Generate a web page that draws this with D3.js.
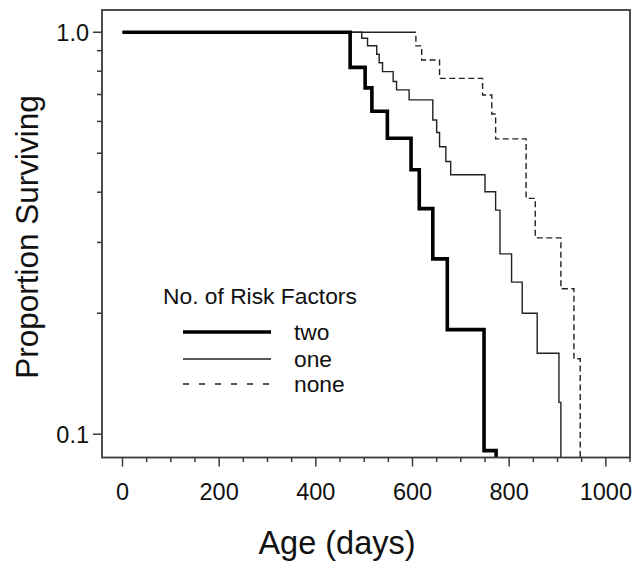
<!DOCTYPE html>
<html>
<head>
<meta charset="utf-8">
<script src="https://cdn.jsdelivr.net/npm/d3@7"></script>
<style>
  html, body { margin: 0; padding: 0; background: #fff; }
  svg { display: block; font-family: "Liberation Sans", Arial, sans-serif; }
</style>
</head>
<body>
<svg id="chart" width="642" height="572"></svg>
<script>
// ---- data ----
const groupNames = ["two", "one", "none"];
const legendTitle = "No. of Risk Factors";

const twoDays = [0, 471, 502, 516, 548, 597, 614, 642, 672, 748, 773];
const twoSurv = [1, 0.818, 0.727, 0.636, 0.545, 0.455, 0.364, 0.273, 0.182, 0.091, 0];

const oneDays = [0, 495, 507, 526, 531, 538, 560, 567, 593, 642, 650, 656, 669, 679, 750, 772, 781, 805, 827, 858, 903, 907];
const oneSurv = [1, 0.966, 0.926, 0.882, 0.840, 0.798, 0.754, 0.719, 0.679, 0.605, 0.563, 0.519, 0.477, 0.442, 0.401, 0.361, 0.281, 0.239, 0.200, 0.159, 0.120, 0];

const noneDays = [0, 607, 619, 656, 745, 764, 772, 835, 854, 907, 934, 947];
const noneSurv = [1, 0.925, 0.853, 0.768, 0.698, 0.626, 0.543, 0.386, 0.308, 0.230, 0.154, 0];

const xMajorTicks = [0, 200, 400, 600, 800, 1000];
const xMinorTicks = [50, 100, 150, 250, 300, 350, 450, 500, 550, 650, 700, 750, 850, 900, 950, 1050];
const yMajorTicks = [1.0, 0.1];
const yMajorLabels = ["1.0", "0.1"];
const yMinorTicks = [0.9, 0.8, 0.7, 0.6, 0.5, 0.4, 0.3, 0.2];

const xTitle = "Age (days)";
const yTitle = "Proportion Surviving";

// ---- layout ----
const svg = d3.select("#chart");
const L = 102, R = 630, T = 10, B = 457.5;
const ink = "#111";
const frameCol = "#3a3a3a";

const x = d3.scaleLinear().domain([-42.4, 1050]).range([L, R]);
const y = d3.scaleLog().domain([0.0875, 1.136]).range([B, T]).clamp(true);

// ---- curves ----
const series = [
  { name: "none", days: noneDays, surv: noneSurv, width: 1.4, dash: [6, 3.5], color: "#222" },
  { name: "one",  days: oneDays,  surv: oneSurv,  width: 1.4, dash: null,    color: "#222" },
  { name: "two",  days: twoDays,  surv: twoSurv,  width: 3.6, dash: null,    color: "#000" }
];

const line = d3.line()
  .x(d => x(d[0]))
  .y(d => y(d[1] > 0 ? d[1] : 1e-6))
  .curve(d3.curveStepAfter);

const plot = svg.append("g");
series.forEach(s => {
  const pts = s.days.map((d, i) => [d, s.surv[i]]);
  const p = plot.append("path")
    .attr("d", line(pts))
    .attr("fill", "none")
    .attr("stroke", s.color)
    .attr("stroke-width", s.width)
    .attr("stroke-linejoin", "miter")
    .attr("stroke-linecap", "butt");
  if (s.dash) {
    // the first (flat, 1.0) stretch is drawn solid, then the dash pattern starts
    const total = p.node().getTotalLength();
    const first = x(s.days[1]) - x(s.days[0]);
    const arr = [first, s.dash[1]];
    let len = first + s.dash[1];
    while (len < total + 20) { arr.push(s.dash[0], s.dash[1]); len += s.dash[0] + s.dash[1]; }
    p.attr("stroke-dasharray", arr.join(","));
  }
});

// ---- frame ----
svg.append("rect")
  .attr("x", L).attr("y", T)
  .attr("width", R - L).attr("height", B - T)
  .attr("fill", "none").attr("stroke", frameCol).attr("stroke-width", 1.8);

// ---- x axis ticks ----
const xAxisG = svg.append("g").attr("stroke", frameCol).attr("stroke-width", 1.5);
xMajorTicks.forEach(t => {
  xAxisG.append("line").attr("x1", x(t)).attr("x2", x(t)).attr("y1", B).attr("y2", B + 9);
});
xMinorTicks.forEach(t => {
  xAxisG.append("line").attr("x1", x(t)).attr("x2", x(t)).attr("y1", B).attr("y2", B + 4.5);
});
svg.append("g").selectAll("text").data(xMajorTicks).join("text")
  .attr("x", d => x(d)).attr("y", 500)
  .attr("text-anchor", "middle")
  .attr("font-size", 23.5).attr("fill", ink)
  .text(d => d);

// ---- y axis ticks ----
const yAxisG = svg.append("g").attr("stroke", frameCol).attr("stroke-width", 1.5);
yMajorTicks.forEach(t => {
  yAxisG.append("line").attr("x1", L - 9).attr("x2", L).attr("y1", y(t)).attr("y2", y(t));
});
yMinorTicks.forEach(t => {
  yAxisG.append("line").attr("x1", L - 5).attr("x2", L).attr("y1", y(t)).attr("y2", y(t));
});
svg.append("g").selectAll("text").data(yMajorTicks).join("text")
  .attr("x", L - 13).attr("y", d => y(d) + 8.5)
  .attr("text-anchor", "end")
  .attr("font-size", 23.5).attr("fill", ink)
  .text((d, i) => yMajorLabels[i]);

// ---- titles ----
svg.append("text")
  .attr("x", 337).attr("y", 554)
  .attr("text-anchor", "middle")
  .attr("font-size", 32.5).attr("fill", ink)
  .text(xTitle);

svg.append("text")
  .attr("transform", `translate(38, 237) rotate(-90)`)
  .attr("text-anchor", "middle")
  .attr("font-size", 31.5).attr("fill", ink)
  .text(yTitle);

// ---- legend ----
const leg = svg.append("g");
leg.append("text").attr("x", 163).attr("y", 304)
  .attr("font-size", 22.8).attr("fill", ink).text(legendTitle);
const legRows = [
  { name: groupNames[0], y: 332, width: 3.6, dash: null, color: "#000" },
  { name: groupNames[1], y: 359, width: 1.4, dash: null, color: "#222" },
  { name: groupNames[2], y: 384, width: 1.4, dash: "6,10", color: "#222" }
];
legRows.forEach(r => {
  leg.append("line").attr("x1", 183).attr("x2", 271).attr("y1", r.y).attr("y2", r.y)
    .attr("stroke", r.color).attr("stroke-width", r.width).attr("stroke-dasharray", r.dash);
  leg.append("text").attr("x", 294).attr("y", r.y + 8)
    .attr("font-size", 22.8).attr("fill", ink).text(r.name);
});
</script>
</body>
</html>
